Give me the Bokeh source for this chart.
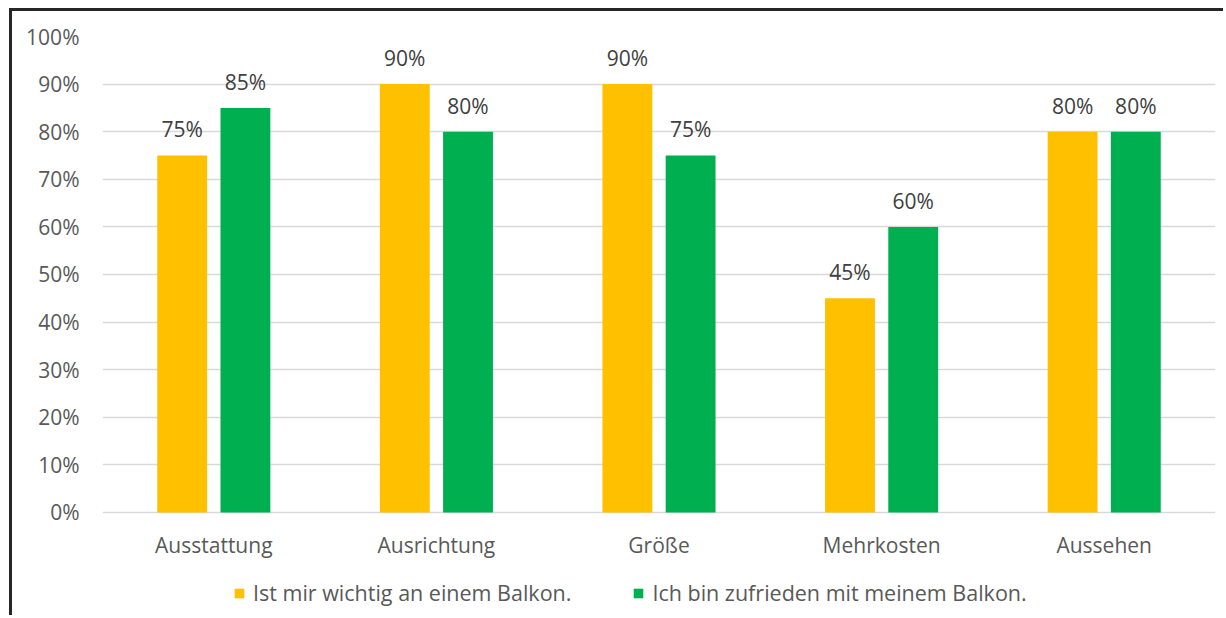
from bokeh.plotting import figure
from bokeh.models import FactorRange, Range1d, Legend, LegendItem, NumeralTickFormatter, ColumnDataSource
from bokeh.transform import dodge
from bokeh.core.properties import value
from bokeh.embed import file_html
from bokeh.resources import INLINE

categories = ["Ausstattung", "Ausrichtung", "Größe", "Mehrkosten", "Aussehen"]
wichtig = [0.75, 0.90, 0.90, 0.45, 0.80]
zufrieden = [0.85, 0.80, 0.75, 0.60, 0.80]
series_names = ["Ist mir wichtig an einem Balkon.", "Ich bin zufrieden mit meinem Balkon."]
y_ticks = [0, 0.1, 0.2, 0.3, 0.4, 0.5, 0.6, 0.7, 0.8, 0.9, 1.0]

FONT = "Open Sans"
TXT = "#595959"

src = ColumnDataSource(dict(
    cat=categories,
    w=wichtig,
    z=zufrieden,
    base=[0] * len(categories),
    wl=[f"{round(v*100)}%" for v in wichtig],
    zl=[f"{round(v*100)}%" for v in zufrieden],
))

# frame extends below the 0% line to hold category labels and legend
p = figure(
    x_range=FactorRange(factors=categories, range_padding=0),
    y_range=Range1d(-0.2227, 1),
    width=1214, height=607,
    output_backend="svg", toolbar_location=None,
    min_border_left=90, min_border_right=11, min_border_top=25, min_border_bottom=0,
)
p.margin = (8, 0, 0, 9)
p.styles = {"border-left": "3px solid #262626", "border-top": "3px solid #262626"}
p.outline_line_color = None
p.background_fill_color = "white"

off = 0.142
bw = 0.224
r1 = p.vbar(x=dodge("cat", -off, range=p.x_range), top="w", width=bw, source=src,
            fill_color="#FFC000", line_color=None)
r2 = p.vbar(x=dodge("cat", off, range=p.x_range), top="z", width=bw, source=src,
            fill_color="#00B050", line_color=None)

for col, o in (("wl", -off), ("zl", off)):
    p.text(x=dodge("cat", o, range=p.x_range), y=col[0], text=col, source=src,
           y_offset=-26, text_align="center", text_baseline="alphabetic",
           text_font=value(FONT), text_font_size="21px", text_color="#404040")

# category labels
p.text(x="cat", y="base", text="cat", source=src, y_offset=33,
       text_align="center", text_baseline="alphabetic",
       text_font=value(FONT), text_font_size="21px", text_color=TXT)
p.xaxis.visible = False

p.yaxis.ticker = y_ticks
p.yaxis.formatter = NumeralTickFormatter(format="0%")
p.yaxis.axis_line_color = None
p.yaxis.major_tick_line_color = None
p.yaxis.minor_tick_line_color = None
p.yaxis.major_label_text_font = FONT
p.yaxis.major_label_text_font_size = "21px"
p.yaxis.major_label_text_color = TXT
p.yaxis.major_label_standoff = 17
p.xgrid.grid_line_color = None
p.ygrid.ticker = y_ticks
p.ygrid.grid_line_color = "#D9D9D9"
p.ygrid.grid_line_width = 1.5

legend = Legend(
    items=[LegendItem(label=series_names[0], renderers=[r1]),
           LegendItem(label=series_names[1], renderers=[r2])],
    orientation="horizontal", location=(131, 11),
    glyph_width=12, glyph_height=12, label_height=20, label_standoff=8,
    spacing=61, padding=0, margin=0,
    border_line_color=None, background_fill_alpha=0,
    label_text_font=FONT, label_text_font_size="21.5px", label_text_color=TXT,
)
p.add_layout(legend, "center")

open("out.html", "w").write(file_html(p, INLINE))
